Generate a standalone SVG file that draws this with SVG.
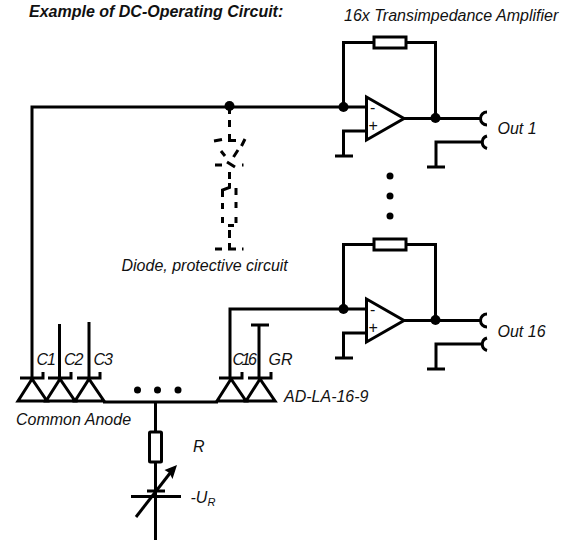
<svg xmlns="http://www.w3.org/2000/svg" width="576" height="542" viewBox="0 0 576 542">
<style>
.w{fill:none;stroke:#000;stroke-width:3}
.t{fill:#fff;stroke:#000;stroke-width:3}
.f{fill:#000}
text{font-family:"Liberation Sans",Arial,sans-serif;font-size:16px;font-style:italic;fill:#111}
.p{font-style:normal}
.n{letter-spacing:-1px}
</style>
<defs>
<g id="amp">
<path class="w" d="M343.500 107V42.500H374M406 42.500H435.500V118.500M404 118.500H481M366 131H343.500V156M335 156H353M483 142H436V167M427 167H445"/>
<rect class="w" x="374" y="37" width="32" height="11"/>
<path class="w" d="M366.500 97V140L404 118.500Z"/>
<path class="w" d="M487 112A6.500 6.500 0 0 0 487 125M487 136A6.500 6.500 0 0 0 487 148.500"/>
<circle class="f" cx="343.500" cy="107" r="5"/>
<circle class="f" cx="435.500" cy="118" r="5"/>
<text class="p" x="370" y="113">-</text>
<text class="p" x="368.500" y="131">+</text>
</g>
<g id="diode">
<path class="w" d="M-12 0H11V-6M0 1L-14 23H15Z"/>
</g>
</defs>
<g id="connectors">
<path class="w" d="M32 378V107H366"/>
<path class="w" d="M230 378V309H366"/>
<path class="w" d="M59.500 378V324M89 378V322M259 378V325M251 325H269"/>
<path class="w" d="M103 402H218"/>
<path class="w" d="M155.500 402V432M155.500 462V540"/>
<path class="w" d="M229.500 107V114M229.500 120V127M229.500 134V140.500H236M214 141L222 139.500M245 139L241.500 146M221 151L225 156M238 150L233.500 157M215 165H222M227 162L235 167M242 165H243.500M229.500 172V179M229.500 183V187.500L222.500 190V197M236 188V195M222.500 203V209M236 202V208M222.500 217V223M236 217V223M228 225.500H234M229.500 230V238M229.500 243V249H236M215 249H222M242 249H243.500"/>
</g>
<g id="node-dc"><circle class="f" cx="229.500" cy="106" r="5"/></g>
<g id="amp1"><use href="#amp"/></g>
<g id="amp16"><use href="#amp" y="202"/></g>
<g id="dots-v"><circle class="f" cx="390" cy="176" r="3.500"/><circle class="f" cx="390" cy="196" r="3.500"/><circle class="f" cx="390" cy="216" r="3.500"/></g>
<g id="dots-h"><circle class="f" cx="137.500" cy="390" r="3.500"/><circle class="f" cx="157.500" cy="390" r="3.500"/><circle class="f" cx="178" cy="390" r="3.500"/></g>
<g id="d-c1"><use href="#diode" x="32" y="378"/></g>
<g id="d-c2"><use href="#diode" x="60" y="378"/></g>
<g id="d-c3"><use href="#diode" x="89" y="378"/></g>
<g id="d-c16"><use href="#diode" x="231" y="378"/></g>
<g id="d-gr"><use href="#diode" x="260" y="378"/></g>
<g id="resistor-r"><rect class="t" x="149.500" y="432" width="12" height="30" rx="1"/></g>
<g id="source">
<path class="w" d="M147 491H165M131 496.500H181"/>
<path class="w" d="M136 517L174 468"/>
<path class="f" d="M177 465L172.500 479L169.500 473L164.500 470Z"/>
</g>
<g id="labels">
<text x="29" y="17" style="font-weight:bold">Example of DC-Operating Circuit:</text>
<text x="344" y="21">16x Transimpedance Amplifier</text>
<text x="497.500" y="134">Out 1</text>
<text x="497.500" y="337">Out 16</text>
<text x="121.500" y="271">Diode, protective circuit</text>
<text class="n" x="36.500" y="365">C1</text>
<text class="n" x="64" y="365">C2</text>
<text class="n" x="93.500" y="365">C3</text>
<text x="232.500" y="365" style="letter-spacing:-2.500px">C16</text>
<text x="268.500" y="365">GR</text>
<text x="284" y="402">AD-LA-16-9</text>
<text x="16" y="425">Common Anode</text>
<text x="193" y="452">R</text>
<text x="190.500" y="503">-U<tspan dy="3" font-size="11">R</tspan></text>
</g>
</svg>
